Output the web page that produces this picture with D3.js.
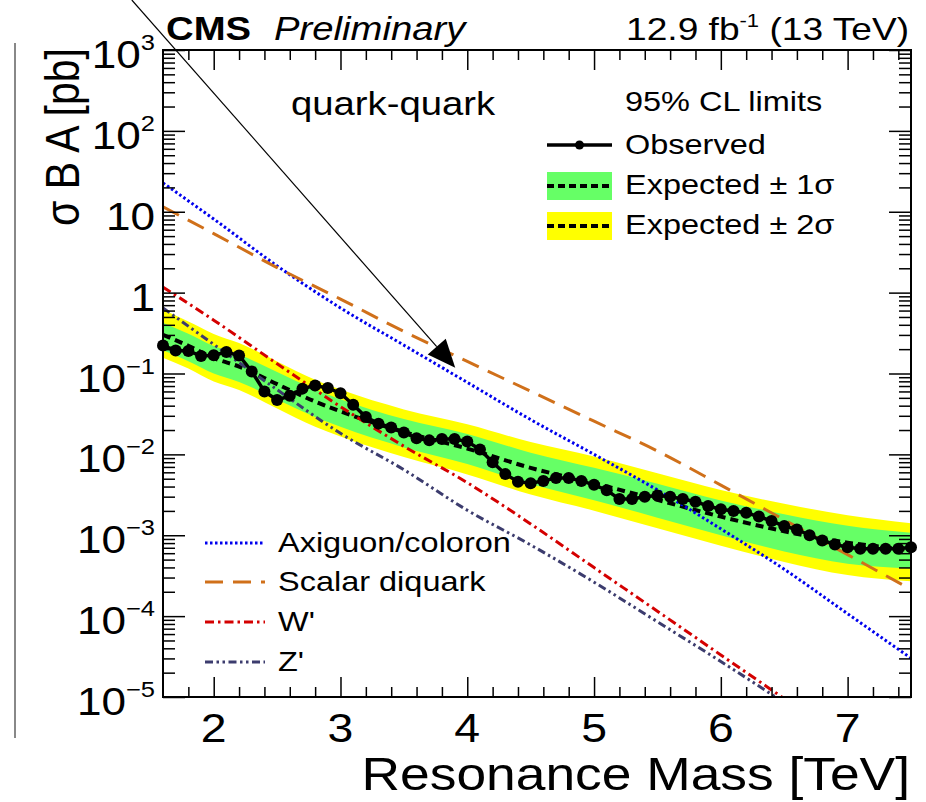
<!DOCTYPE html>
<html>
<head>
<meta charset="utf-8">
<script src="https://cdn.jsdelivr.net/npm/d3@7"></script>
<style>
  body { margin: 0; background: #fff; }
  svg { display: block; font-family: "Liberation Sans", Arial, Helvetica, sans-serif; }
</style>
</head>
<body>
<div id="chart"></div>
<script>
// observed 95% CL limit, one point every 0.1 TeV
var obsMass = [1.6,1.7,1.8,1.9,2.0,2.1,2.2,2.3,2.4,2.5,2.6,2.7,2.8,2.9,3.0,3.1,3.2,3.3,3.4,3.5,
	3.6,3.7,3.8,3.9,4.0,4.1,4.2,4.3,4.4,4.5,4.6,4.7,4.8,4.9,5.0,5.1,5.2,5.3,5.4,5.5,
	5.6,5.7,5.8,5.9,6.0,6.1,6.2,6.3,6.4,6.5,6.6,6.7,6.8,6.9,7.0,7.1,7.2,7.3,7.4,7.5];
var obsLimit = [0.222,0.192,0.190,0.165,0.168,0.184,0.167,0.106,0.060,0.047,0.053,0.065,0.071,0.066,0.057,0.041,0.029,0.024,0.0215,0.0187,
	0.0158,0.0149,0.0155,0.0155,0.0144,0.0115,0.0080,0.0057,0.0046,0.0044,0.0047,0.0051,0.0051,0.0047,0.0042,0.0036,0.0028,0.0028,0.0030,0.0031,
	0.0030,0.0028,0.0026,0.0023,0.0021,0.0020,0.0019,0.0017,0.0015,0.0013,0.00118,0.00100,0.00086,0.00077,0.00071,0.00068,0.00068,0.00068,0.00068,0.00071];

// expected limit and bands
var expMass  = [1.6,1.8,2.0,2.2,2.5,2.8,3.0,3.5,4.0,4.5,5.0,5.5,6.0,6.5,7.0,7.5];
var expLimit = [0.300,0.220,0.155,0.122,0.0738,0.0450,0.0340,0.0189,0.0118,0.00681,0.00440,0.00274,0.00170,0.00112,0.00081,0.00066];
var exp1Up   = [0.424,0.310,0.219,0.172,0.104,0.0635,0.0480,0.0273,0.0179,0.0105,0.00681,0.00434,0.00269,0.00182,0.00131,0.00107];
var exp1Down = [0.194,0.142,0.100,0.0787,0.0476,0.0290,0.0219,0.0122,0.00762,0.00430,0.00271,0.00165,0.00100,0.000631,0.000445,0.000389];
var exp2Up   = [0.612,0.439,0.309,0.238,0.141,0.0838,0.0632,0.0360,0.0236,0.0142,0.00940,0.00585,0.00363,0.00245,0.00177,0.00141];
var exp2Down = [0.157,0.115,0.0794,0.0625,0.0370,0.0220,0.0166,0.00925,0.00565,0.00318,0.00201,0.00122,0.000741,0.000468,0.000322,0.000269];

// theory cross sections
var theoryMass = [1.6,2.0,2.5,3.0,3.5,4.0,4.5,5.0,5.5,6.0,6.5,7.0,7.5];
var axiguon = [22.7,8.13,2.14,0.646,0.224,0.0776,0.0269,0.0100,0.00363,0.00120,0.000380,0.000107,0.0000302];
var diquark = [11.5,5.37,2.04,0.832,0.331,0.141,0.0603,0.0257,0.0110,0.00417,0.00155,0.000575,0.000214];
var wprime  = [1.17,0.457,0.132,0.0389,0.0126,0.00447,0.00138,0.000398,0.000115,0.0000331,0.00000955];
var zprime  = [0.646,0.229,0.0631,0.0182,0.00646,0.00204,0.000759,0.000263,0.0000851,0.0000275,0.00000851];

// ticks
var xMajorTicks = [2,3,4,5,6,7];
var xMinorTicks = [1.8,2.2,2.4,2.6,2.8,3.2,3.4,3.6,3.8,4.2,4.4,4.6,4.8,5.2,5.4,5.6,5.8,6.2,6.4,6.6,6.8,7.2,7.4];
var yExponents = [-5,-4,-3,-2,-1,0,1,2,3];
var yMantissas = [2,3,4,5,6,7,8,9];

var width = 926, height = 802;
var padL = 163, padR = 911, padT = 50, padB = 697;
var SX = 1.16; // the picture is a little wider than tall

var svg = d3.select("#chart").append("svg")
	.attr("width", width)
	.attr("height", height);

var x = d3.scaleLinear().domain([1.6, 7.5]).range([padL, padR]);
var y = d3.scaleLog().domain([1e-5, 1e3]).range([padB, padT]);

// stretched text helper
function label(g, px, py, str, size, anchor) {
	return g.append("text")
		.attr("transform", "translate(" + px + "," + py + ") scale(" + SX + ",1)")
		.attr("text-anchor", anchor || "start")
		.style("font-size", size + "px")
		.text(str);
}

svg.append("defs").append("clipPath").attr("id", "plot")
	.append("rect").attr("x", padL).attr("y", padT)
	.attr("width", padR - padL).attr("height", padB - padT);

var plot = svg.append("g").attr("clip-path", "url(#plot)");

// bands
var expRows = expMass.map(function(m, i) {
	return {m: m, e: expLimit[i], u1: exp1Up[i], d1: exp1Down[i], u2: exp2Up[i], d2: exp2Down[i]};
});

plot.append("path").datum(expRows)
	.attr("fill", "#ffff00")
	.attr("d", d3.area().curve(d3.curveMonotoneX)
		.x(function(d) { return x(d.m); })
		.y0(function(d) { return y(d.d2); })
		.y1(function(d) { return y(d.u2); }));

plot.append("path").datum(expRows)
	.attr("fill", "#66ff66")
	.attr("d", d3.area().curve(d3.curveMonotoneX)
		.x(function(d) { return x(d.m); })
		.y0(function(d) { return y(d.d1); })
		.y1(function(d) { return y(d.u1); }));

plot.append("path").datum(expRows)
	.attr("fill", "none")
	.attr("stroke", "#000")
	.attr("stroke-width", 4)
	.attr("stroke-dasharray", "8,5")
	.attr("d", d3.line().curve(d3.curveMonotoneX)
		.x(function(d) { return x(d.m); })
		.y(function(d) { return y(d.e); }));

// theory curves
var theories = [
	{vals: axiguon, color: "#0000ee", dash: "2.5,2.5", width: 3},
	{vals: diquark, color: "#d0701a", dash: "18,10", width: 3},
	{vals: wprime,  color: "#d40000", dash: "9,4,2.5,4", width: 3},
	{vals: zprime,  color: "#3c3c6e", dash: "8,3.5,2.5,3.5,2.5,3.5", width: 3}
];

theories.forEach(function(t) {
	var pts = t.vals.map(function(v, i) { return [theoryMass[i], v]; });
	plot.append("path").datum(pts)
		.attr("fill", "none")
		.attr("stroke", t.color)
		.attr("stroke-width", t.width)
		.attr("stroke-dasharray", t.dash)
		.attr("d", d3.line().curve(d3.curveMonotoneX)
			.x(function(d) { return x(d[0]); })
			.y(function(d) { return y(d[1]); }));
});

// observed
var obsPts = obsMass.map(function(m, i) { return [m, obsLimit[i]]; });

plot.append("path").datum(obsPts)
	.attr("fill", "none")
	.attr("stroke", "#000")
	.attr("stroke-width", 3.5)
	.attr("d", d3.line()
		.x(function(d) { return x(d[0]); })
		.y(function(d) { return y(d[1]); }));

svg.append("g").selectAll("circle").data(obsPts).enter().append("circle")
	.attr("cx", function(d) { return x(d[0]); })
	.attr("cy", function(d) { return y(d[1]); })
	.attr("r", 6)
	.attr("fill", "#000");

// axes with inside ticks, ROOT style
function ticks(axis, tx, ty) {
	var g = svg.append("g")
		.attr("transform", "translate(" + tx + "," + ty + ")")
		.call(axis);
	g.select(".domain").remove();
	g.selectAll("line").attr("stroke", "#000").attr("stroke-width", 1.5);
	return g;
}

var yMinorTicks = [];
yExponents.slice(0, -1).forEach(function(k) {
	yMantissas.forEach(function(j) { yMinorTicks.push(j * Math.pow(10, k)); });
});
var yMajorTicks = yExponents.map(function(k) { return Math.pow(10, k); });

ticks(d3.axisBottom(x).tickValues(xMajorTicks).tickSizeInner(-20).tickSizeOuter(0).tickFormat(""), 0, padB);
ticks(d3.axisBottom(x).tickValues(xMinorTicks).tickSizeInner(-10).tickSizeOuter(0).tickFormat(""), 0, padB);
ticks(d3.axisTop(x).tickValues(xMajorTicks).tickSizeInner(-20).tickSizeOuter(0).tickFormat(""), 0, padT);
ticks(d3.axisTop(x).tickValues(xMinorTicks).tickSizeInner(-10).tickSizeOuter(0).tickFormat(""), 0, padT);
ticks(d3.axisLeft(y).tickValues(yMajorTicks).tickSizeInner(-22).tickSizeOuter(0).tickFormat(""), padL, 0);
ticks(d3.axisLeft(y).tickValues(yMinorTicks).tickSizeInner(-12).tickSizeOuter(0).tickFormat(""), padL, 0);
ticks(d3.axisRight(y).tickValues(yMajorTicks).tickSizeInner(-22).tickSizeOuter(0).tickFormat(""), padR, 0);
ticks(d3.axisRight(y).tickValues(yMinorTicks).tickSizeInner(-12).tickSizeOuter(0).tickFormat(""), padR, 0);

svg.append("rect")
	.attr("x", padL).attr("y", padT)
	.attr("width", padR - padL).attr("height", padB - padT)
	.attr("fill", "none").attr("stroke", "#000").attr("stroke-width", 2);

// tick labels
xMajorTicks.forEach(function(v) {
	label(svg, x(v), 742, String(v), 40, "middle");
});

yExponents.forEach(function(k) {
	var t = svg.append("text")
		.attr("transform", "translate(155," + (y(Math.pow(10, k)) + 18) + ") scale(" + SX + ",1)")
		.attr("text-anchor", "end")
		.style("font-size", "38px");
	if (k == 0) { t.text("1"); return; }
	t.append("tspan").text("10");
	if (k != 1) {
		t.append("tspan").attr("dy", -18).style("font-size", "22px")
			.text(k < 0 ? "\u2212" + (-k) : String(k));
	}
});

// axis titles
label(svg, 910, 790, "Resonance Mass [TeV]", 46, "end");

svg.append("text")
	.attr("transform", "translate(79,48) scale(" + SX + ",1) rotate(-90)")
	.attr("text-anchor", "end")
	.style("font-size", "41px")
	.text("\u03c3 B A [pb]");

// header
label(svg, 166, 40, "CMS", 33, "start").style("font-weight", "bold");
label(svg, 274, 40, "Preliminary", 33, "start").style("font-style", "italic");
var lumi = svg.append("text")
	.attr("transform", "translate(909,40) scale(" + SX + ",1)")
	.attr("text-anchor", "end")
	.style("font-size", "32px");
lumi.append("tspan").text("12.9 fb");
lumi.append("tspan").attr("dy", -13).style("font-size", "19px").text("-1");
lumi.append("tspan").attr("dy", 13).text(" (13 TeV)");

label(svg, 291, 115, "quark-quark", 33, "start");

// limits legend
var legX0 = 547, legX1 = 612, legText = 625;
label(svg, legText, 111, "95% CL limits", 28, "start");

svg.append("line").attr("x1", legX0).attr("x2", legX1).attr("y1", 145).attr("y2", 145)
	.attr("stroke", "#000").attr("stroke-width", 3.5);
svg.append("circle").attr("cx", (legX0 + legX1) / 2).attr("cy", 145).attr("r", 4.5).attr("fill", "#000");
label(svg, legText, 154, "Observed", 28, "start");

[{c: "#66ff66", y: 172, t: "Expected \u00b1 1\u03c3", b: 194},
 {c: "#ffff00", y: 212, t: "Expected \u00b1 2\u03c3", b: 234}].forEach(function(e) {
	svg.append("rect").attr("x", legX0).attr("y", e.y).attr("width", legX1 - legX0).attr("height", 28)
		.attr("fill", e.c);
	svg.append("line").attr("x1", legX0).attr("x2", legX1).attr("y1", e.y + 14).attr("y2", e.y + 14)
		.attr("stroke", "#000").attr("stroke-width", 4).attr("stroke-dasharray", "7,4");
	label(svg, legText, e.b, e.t, 28, "start");
});

// theory legend
var theoryNames = ["Axiguon/coloron", "Scalar diquark", "W'", "Z'"];
var theoryLegY = [543, 582, 622, 662];
theories.forEach(function(t, i) {
	svg.append("line").attr("x1", 205).attr("x2", 265)
		.attr("y1", theoryLegY[i]).attr("y2", theoryLegY[i])
		.attr("stroke", t.color).attr("stroke-width", t.width).attr("stroke-dasharray", t.dash);
	label(svg, 278, theoryLegY[i] + 9, theoryNames[i], 28, "start");
});

// arrow pointing at the scalar diquark curve
var a0 = [x(1.354), y(4150)], a1 = [x(3.905), y(0.118)];
var ang = Math.atan2(a1[1] - a0[1], a1[0] - a0[0]);
var hl = 28, hw = 12;
var base = [a1[0] - hl * Math.cos(ang), a1[1] - hl * Math.sin(ang)];
svg.append("line").attr("x1", a0[0]).attr("y1", a0[1]).attr("x2", base[0]).attr("y2", base[1])
	.attr("stroke", "#000").attr("stroke-width", 1.2);
svg.append("polygon")
	.attr("points", [
		a1,
		[base[0] + hw * Math.sin(ang), base[1] - hw * Math.cos(ang)],
		[base[0] - hw * Math.sin(ang), base[1] + hw * Math.cos(ang)]
	].map(function(p) { return p.join(","); }).join(" "))
	.attr("fill", "#000");

// stray edge line at the left of the picture
svg.append("line").attr("x1", 15).attr("x2", 15).attr("y1", 43).attr("y2", 738)
	.attr("stroke", "#888").attr("stroke-width", 2);
</script>
</body>
</html>
